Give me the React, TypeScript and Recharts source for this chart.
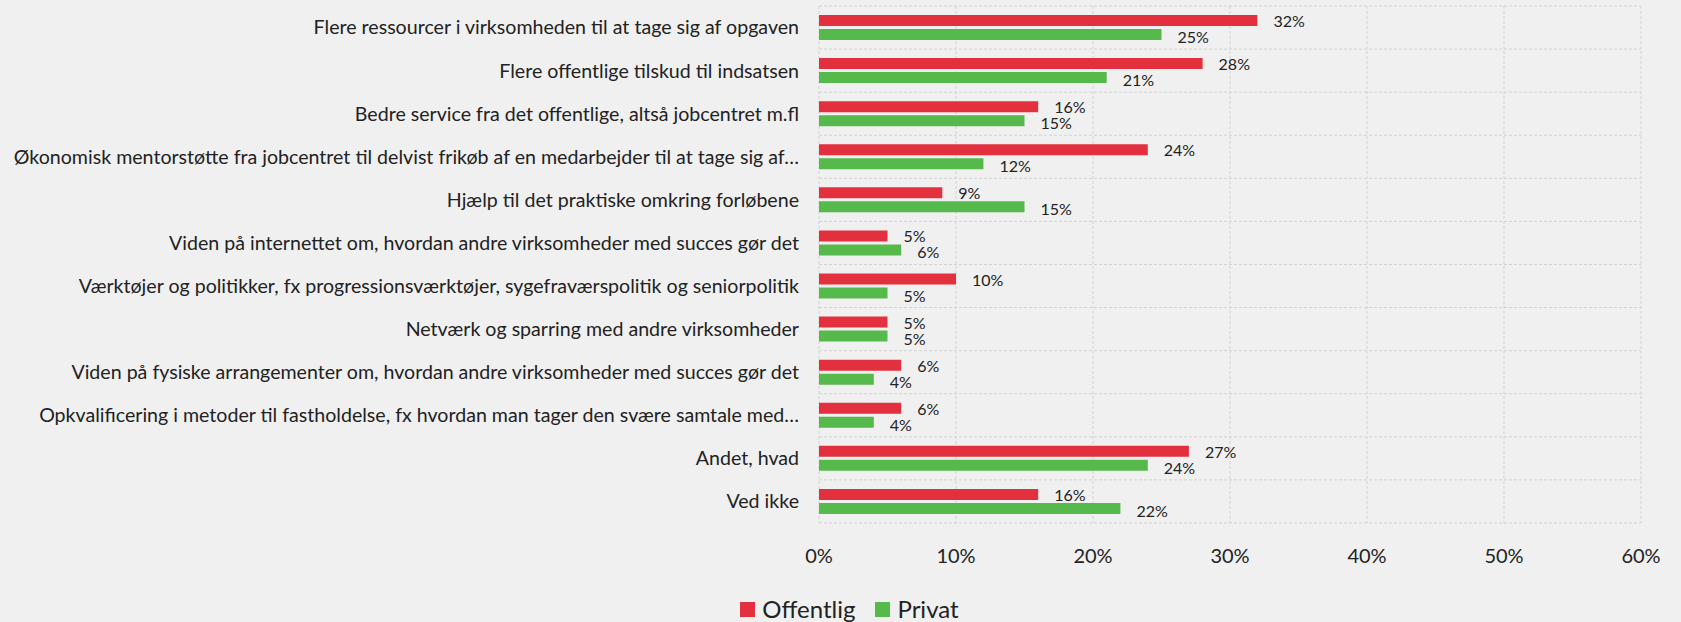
import React from 'react';
import { BarChart, Bar, XAxis, YAxis, CartesianGrid, LabelList } from 'recharts';

const categories = [
  'Flere ressourcer i virksomheden til at tage sig af opgaven',
  'Flere offentlige tilskud til indsatsen',
  'Bedre service fra det offentlige, altså jobcentret m.fl',
  'Økonomisk mentorstøtte fra jobcentret til delvist frikøb af en medarbejder til at tage sig af…',
  'Hjælp til det praktiske omkring forløbene',
  'Viden på internettet om, hvordan andre virksomheder med succes gør det',
  'Værktøjer og politikker, fx progressionsværktøjer, sygefraværspolitik og seniorpolitik',
  'Netværk og sparring med andre virksomheder',
  'Viden på fysiske arrangementer om, hvordan andre virksomheder med succes gør det',
  'Opkvalificering i metoder til fastholdelse, fx hvordan man tager den svære samtale med…',
  'Andet, hvad',
  'Ved ikke',
];
const offentlig = [32, 28, 16, 24, 9, 5, 10, 5, 6, 6, 27, 16];
const privat = [25, 21, 15, 12, 15, 6, 5, 5, 4, 4, 24, 22];
const xTicks = [0, 10, 20, 30, 40, 50, 60];

const RED = '#e3303f';
const GREEN = '#56b94b';
const FONT = 'Lato, "Open Sans", sans-serif';

const data = categories.map((name, i) => ({ name, offentlig: offentlig[i], privat: privat[i] }));

const makeLabel = (dy: number) => (props: any) => {
  const { x, y, width, height, value } = props;
  return (
    <text
      x={Number(x) + Number(width) + 16}
      y={Number(y) + Number(height) / 2 + dy}
      dominantBaseline="central"
      fontSize={16}
      fontFamily={FONT}
      fill="#222"
    >
      {value}%
    </text>
  );
};

const LegendItem = ({ color, label }: { color: string; label: string }) => (
  <div style={{ display: 'flex', alignItems: 'center', margin: '0 10px' }}>
    <span style={{ width: 15, height: 15, background: color, marginRight: 7 }} />
    <span>{label}</span>
  </div>
);

export default function App() {
  return (
    <div
      style={{
        position: 'fixed',
        left: 0,
        top: 0,
        width: 1681,
        height: 622,
        background: '#f0f0f0',
        fontFamily: FONT,
        overflow: 'hidden',
      }}
    >
      <BarChart
        width={1681}
        height={622}
        data={data}
        layout="vertical"
        margin={{ top: 6, right: 40, bottom: 59, left: 0 }}
        barSize={11}
        barGap={3}
      >
        <CartesianGrid
          stroke="#d2d2d2"
          strokeDasharray="3 2"
          horizontalCoordinatesGenerator={({ offset }: any) =>
            Array.from({ length: categories.length + 1 }, (_, i) => offset.top + (i * offset.height) / categories.length)
          }
        />
        <XAxis
          type="number"
          domain={[0, 60]}
          ticks={xTicks}
          tickFormatter={(v) => `${v}%`}
          axisLine={false}
          tickLine={false}
          tickMargin={20}
          height={40}
          interval={0}
          tick={{ fontSize: 20, fill: '#222', fontFamily: FONT }}
        />
        <YAxis
          type="category"
          dataKey="name"
          width={819}
          axisLine={false}
          tickLine={false}
          tickSize={0}
          tickMargin={20}
          interval={0}
          tick={{ fontSize: 19.6, fill: '#222', fontFamily: FONT }}
        />
        <Bar dataKey="offentlig" fill={RED} isAnimationActive={false}>
          <LabelList dataKey="offentlig" content={makeLabel(0)} />
        </Bar>
        <Bar dataKey="privat" fill={GREEN} isAnimationActive={false}>
          <LabelList dataKey="privat" content={makeLabel(2)} />
        </Bar>
      </BarChart>
      <div
        style={{
          position: 'absolute',
          left: 0,
          top: 594,
          width: 1681,
          paddingLeft: 18,
          boxSizing: 'border-box',
          display: 'flex',
          justifyContent: 'center',
          fontSize: 24,
          lineHeight: '30px',
          color: '#222',
        }}
      >
        <LegendItem color={RED} label="Offentlig" />
        <LegendItem color={GREEN} label="Privat" />
      </div>
    </div>
  );
}
